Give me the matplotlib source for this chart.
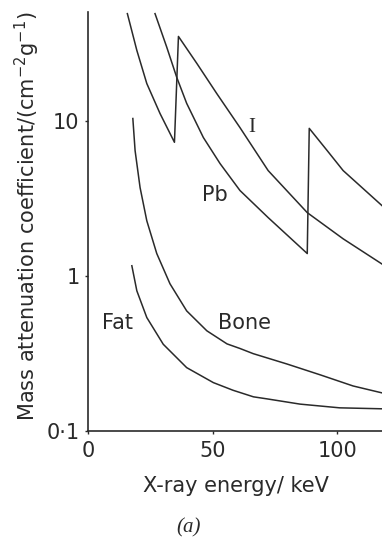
import matplotlib
matplotlib.use("Agg")
import matplotlib.pyplot as plt

plt.rcParams['font.family'] = ['Liberation Sans Narrow', 'DejaVu Sans']

# ===== DATA =====
# Iodine: K-edge at ~35 keV
iodine_e = [15.8, 19.6, 23.6, 28.9, 34.7, 36.3, 43.7, 51.7, 61.0, 72.3, 88.0, 102.4, 118.0]
iodine_mu = [48.8, 28.3, 17.3, 11.1, 7.24, 34.8, 23.3, 14.9, 9.0, 4.76, 2.55, 1.73, 1.19]

# Lead: K-edge at ~88 keV
lead_e = [26.9, 31.6, 35.6, 39.6, 46.3, 53.0, 61.0, 72.3, 88.0, 88.8, 96.0, 102.4, 118.0]
lead_mu = [48.8, 29.7, 19.0, 12.9, 7.77, 5.28, 3.54, 2.37, 1.39, 8.9, 6.4, 4.76, 2.83]

bone_e = [18.0, 18.9, 20.9, 23.6, 27.6, 32.9, 39.6, 47.7, 55.8, 61.0, 66.3, 79.9, 93.2, 106.4, 118.0]
bone_mu = [10.3, 6.4, 3.70, 2.26, 1.39, 0.888, 0.594, 0.442, 0.364, 0.340, 0.315, 0.270, 0.230, 0.195, 0.176]

fat_e = [17.6, 19.6, 23.6, 30.2, 39.6, 50.3, 58.2, 66.4, 71.9, 85.1, 101.0, 118.0]
fat_mu = [1.16, 0.80, 0.538, 0.362, 0.256, 0.205, 0.183, 0.166, 0.161, 0.149, 0.141, 0.139]

x_ticks = [0, 50, 100]
y_ticks = [0.1, 1, 10]
y_tick_labels = ["0·1", "1", "10"]

# ===== PLOT =====
fig = plt.figure(figsize=(3.82, 5.40), dpi=100)
ax = fig.add_axes([88 / 382, 109 / 540, 294 / 382, 419 / 540])

ink = "#2a2a2a"
lw = 1.1
ax.plot(iodine_e, iodine_mu, color=ink, lw=lw)
ax.plot(lead_e, lead_mu, color=ink, lw=lw)
ax.plot(bone_e, bone_mu, color=ink, lw=lw)
ax.plot(fat_e, fat_mu, color=ink, lw=lw)

ax.set_yscale("log")
ax.set_xlim(0, 118)
ax.set_ylim(0.1, 50)

ax.set_xticks(x_ticks)
ax.set_yticks(y_ticks)
ax.set_yticklabels(y_tick_labels)
ax.yaxis.set_minor_locator(matplotlib.ticker.NullLocator())
ax.tick_params(axis="both", direction="out", length=2.5, width=1,
               labelsize=15, colors=ink)
ax.tick_params(axis="x", pad=4.7)
ax.tick_params(axis="y", pad=3.6)

for side in ["top", "right"]:
    ax.spines[side].set_visible(False)
for side in ["left", "bottom"]:
    ax.spines[side].set_linewidth(1.2)
    ax.spines[side].set_color(ink)

# curve labels
ax.text(65.9, 9.0, "I", fontsize=15, family="Liberation Serif",
        ha="center", va="center", color=ink)
ax.text(51, 3.33, "Pb", fontsize=15, ha="center", va="center", color=ink)
ax.text(12, 0.497, "Fat", fontsize=15, ha="center", va="center", color=ink)
ax.text(63, 0.497, "Bone", fontsize=15, ha="center", va="center", color=ink)

fig.text(27 / 382, 1 - 216 / 540,
         "Mass attenuation coefficient/(cm$^{-2}$g$^{-1}$)",
         rotation=90, fontsize=15, ha="center", va="center", color=ink)
fig.text(236 / 382, 1 - 486 / 540, "X-ray energy/ keV",
         fontsize=15, ha="center", va="center", color=ink)
fig.text(189 / 382, 1 - 528 / 540, "(a)", fontsize=15,
         family="Liberation Serif", style="italic",
         ha="center", va="center", color=ink)

fig.savefig("out.png", dpi=100)
plt.close(fig)
